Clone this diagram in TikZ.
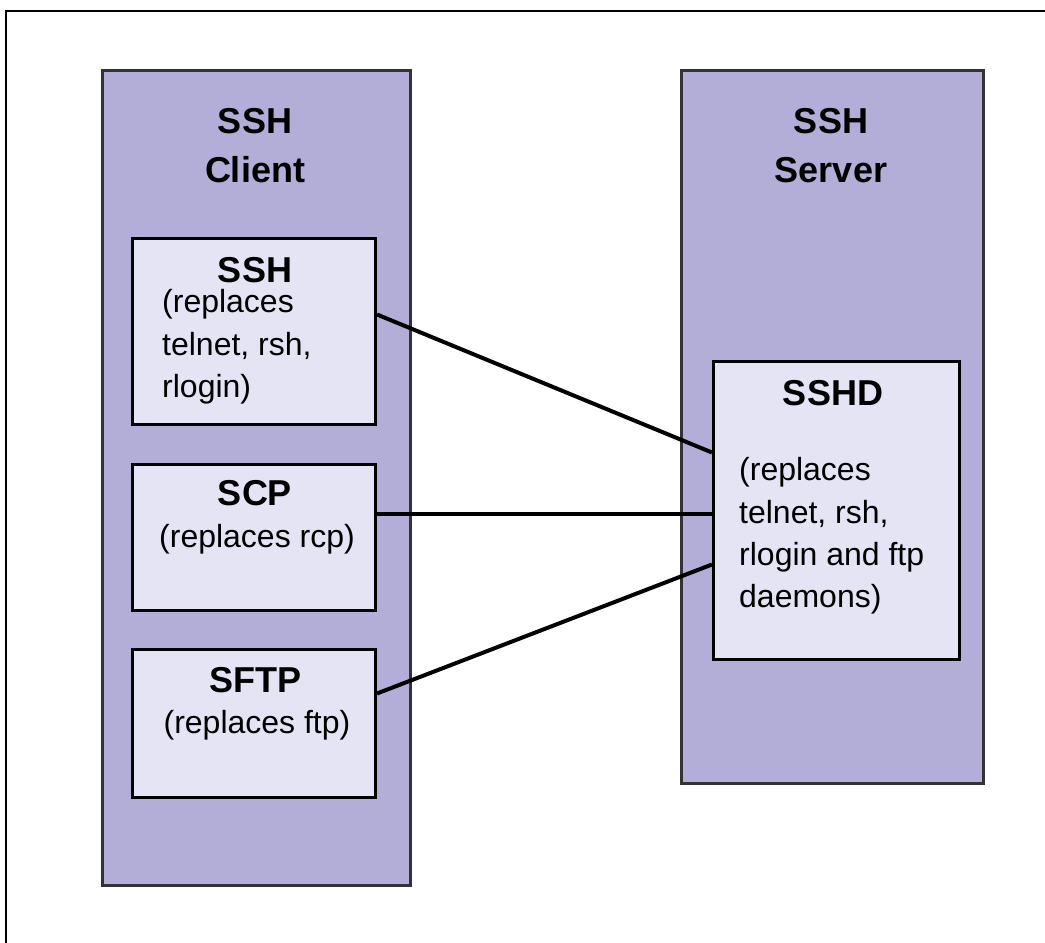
\documentclass[tikz,border=0pt]{standalone}
\usepackage{fontspec}
\setmainfont{Liberation Sans}
\definecolor{columnfill}{RGB}{178,174,216}
\definecolor{boxfill}{RGB}{229,228,244}
\definecolor{columnedge}{RGB}{50,50,55}
\begin{document}
\begin{tikzpicture}[x=1pt,y=-1pt,
  column/.style={draw=columnedge,line width=3pt,fill=columnfill,inner sep=0pt,anchor=north west},
  toolbox/.style={draw=black,line width=3pt,fill=boxfill,inner sep=0pt,anchor=north west},
  heading/.style={font=\fontsize{36}{44}\selectfont\bfseries,inner sep=0pt,anchor=base},
  note/.style={font=\fontsize{32}{42}\selectfont,inner sep=0pt},
  notec/.style={note,anchor=base},
  notel/.style={note,anchor=base west},
  link/.style={line width=4pt,black}]
\useasboundingbox (0,0) rectangle (1045,943);
\fill[white] (0,0) rectangle (1045,943);
% page frame
\draw[line width=2pt] (1045,11) -- (6,11) -- (6,943);

% the two columns
\node[column,minimum width=308pt,minimum height=815pt] (client) at (101,69) {};
\node[column,minimum width=302pt,minimum height=713pt] (server) at (680,69) {};
\node[heading] (clientT1) at (255,133) {SSH};
\node[heading] (clientT2) at (255,182) {Client};
\node[heading] (serverT1) at (831,133) {SSH};
\node[heading] (serverT2) at (831,182) {Server};

% client tools
\node[toolbox,minimum width=243pt,minimum height=186pt] (ssh) at (131,237) {};
\node[heading] (sshT) at (255,282) {SSH};
\node[notel] (sshL1) at (162,312) {(replaces};
\node[notel] (sshL2) at (162,355) {telnet, rsh,};
\node[notel] (sshL3) at (162,397) {rlogin)};

\node[toolbox,minimum width=243pt,minimum height=146pt] (scp) at (131,463) {};
\node[heading] (scpT) at (255,505) {SCP};
\node[notec] (scpL1) at (257,547) {(replaces rcp)};

\node[toolbox,minimum width=243pt,minimum height=148pt] (sftp) at (131,648) {};
\node[heading] (sftpT) at (255,692) {SFTP};
\node[notec] (sftpL1) at (257,733) {(replaces ftp)};

% server daemon
\node[toolbox,minimum width=246pt,minimum height=298pt] (sshd) at (712,360) {};
\node[heading] (sshdT) at (833,405) {SSHD};
\node[notel] (sshdL1) at (739,480) {(replaces};
\node[notel] (sshdL2) at (739,523) {telnet, rsh,};
\node[notel] (sshdL3) at (739,565) {rlogin and ftp};
\node[notel] (sshdL4) at (739,607) {daemons)};

% connections
\draw[link] ([yshift=17pt]ssh.east) -- ([yshift=58pt]sshd.west);
\draw[link] ([yshift=24pt]scp.east) -- ([yshift=-3pt]sshd.west);
\draw[link] ([yshift=30pt]sftp.east) -- ([yshift=-54pt]sshd.west);
\end{tikzpicture}
\end{document}
